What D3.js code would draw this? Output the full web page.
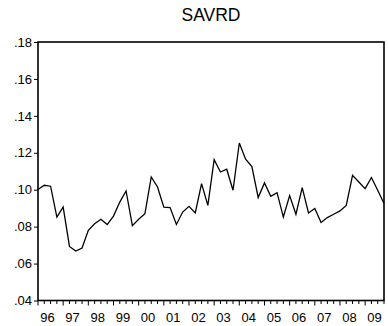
<!DOCTYPE html>
<html>
<head>
<meta charset="utf-8">
<script src="https://cdn.jsdelivr.net/npm/d3@7"></script>
<style>
  html, body { margin: 0; padding: 0; background: #fff; }
  svg { display: block; }
</style>
</head>
<body>
<svg id="chart" width="388" height="326"></svg>
<script>
// Quarterly series, 1996Q1 - 2009Q4
const title = "SAVRD";
const startYear = 1996;
const endYear = 2009;
const savrd = [
  0.1001, 0.1024, 0.1019, 0.0852, 0.0906, 0.0693, 0.0668, 0.0684,
  0.0780, 0.0816, 0.0840, 0.0811, 0.0857, 0.0933, 0.0993, 0.0805,
  0.0840, 0.0870, 0.1069, 0.1015, 0.0906, 0.0903, 0.0812, 0.0879,
  0.0910, 0.0874, 0.1033, 0.0915, 0.1163, 0.1096, 0.1111, 0.0997,
  0.1253, 0.1165, 0.1125, 0.0958, 0.1037, 0.0964, 0.0984, 0.0852,
  0.0968, 0.0867, 0.1011, 0.0874, 0.0898, 0.0823, 0.0849, 0.0867,
  0.0885, 0.0915, 0.1078, 0.1042, 0.1006, 0.1066, 0.0997, 0.0925
];
const yTicks = [0.04, 0.06, 0.08, 0.10, 0.12, 0.14, 0.16, 0.18];
const yearLabels = ["96","97","98","99","00","01","02","03","04","05","06","07","08","09"];

const svg = d3.select("#chart");
const m = { left: 38, right: 384, top: 42, bottom: 300.5 };

const x = d3.scaleLinear().domain([0, savrd.length - 1]).range([m.left, m.right]);
const y = d3.scaleLinear().domain([0.04, 0.18]).range([m.bottom, m.top]);

const font = "'Liberation Sans', Arial, sans-serif";

// title
svg.append("text")
  .attr("x", (m.left + m.right) / 2)
  .attr("y", 21)
  .attr("text-anchor", "middle")
  .attr("font-family", font)
  .attr("font-size", 17.5)
  .text(title);

// y axis
const yAxis = d3.axisLeft(y)
  .tickValues(yTicks)
  .tickSize(4)
  .tickPadding(2)
  .tickFormat(d => d3.format(".2f")(d).replace(/^0/, ""));
const gy = svg.append("g").attr("transform", `translate(${m.left},0)`).call(yAxis);
gy.select(".domain").remove();
gy.selectAll("line").attr("stroke", "#000").attr("stroke-width", 1);
gy.selectAll("text").attr("font-family", font).attr("font-size", 13).attr("fill", "#000");

// x axis: quarterly ticks, year labels centred on each year's observations
const quarterIdx = d3.range(savrd.length);
const gx = svg.append("g").attr("transform", `translate(0,${m.bottom})`);
gx.selectAll("line.q").data(quarterIdx).join("line")
  .attr("class", "q")
  .attr("x1", d => x(d)).attr("x2", d => x(d))
  .attr("y1", 0).attr("y2", d => d % 4 === 0 ? 5 : 3.5)
  .attr("stroke", "#000").attr("stroke-width", 1);
gx.selectAll("text").data(yearLabels).join("text")
  .attr("x", (d, i) => x(i * 4 + 1.5))
  .attr("y", 21)
  .attr("text-anchor", "middle")
  .attr("font-family", font)
  .attr("font-size", 13)
  .text(d => d);

// frame
svg.append("rect")
  .attr("x", m.left).attr("y", m.top)
  .attr("width", m.right - m.left).attr("height", m.bottom - m.top)
  .attr("fill", "none").attr("stroke", "#000").attr("stroke-width", 1.6);

// series line
const line = d3.line().x((d, i) => x(i)).y(d => y(d));
svg.append("path")
  .datum(savrd)
  .attr("d", line)
  .attr("fill", "none")
  .attr("stroke", "#000")
  .attr("stroke-width", 1.3)
  .attr("stroke-linejoin", "miter");
</script>
</body>
</html>
